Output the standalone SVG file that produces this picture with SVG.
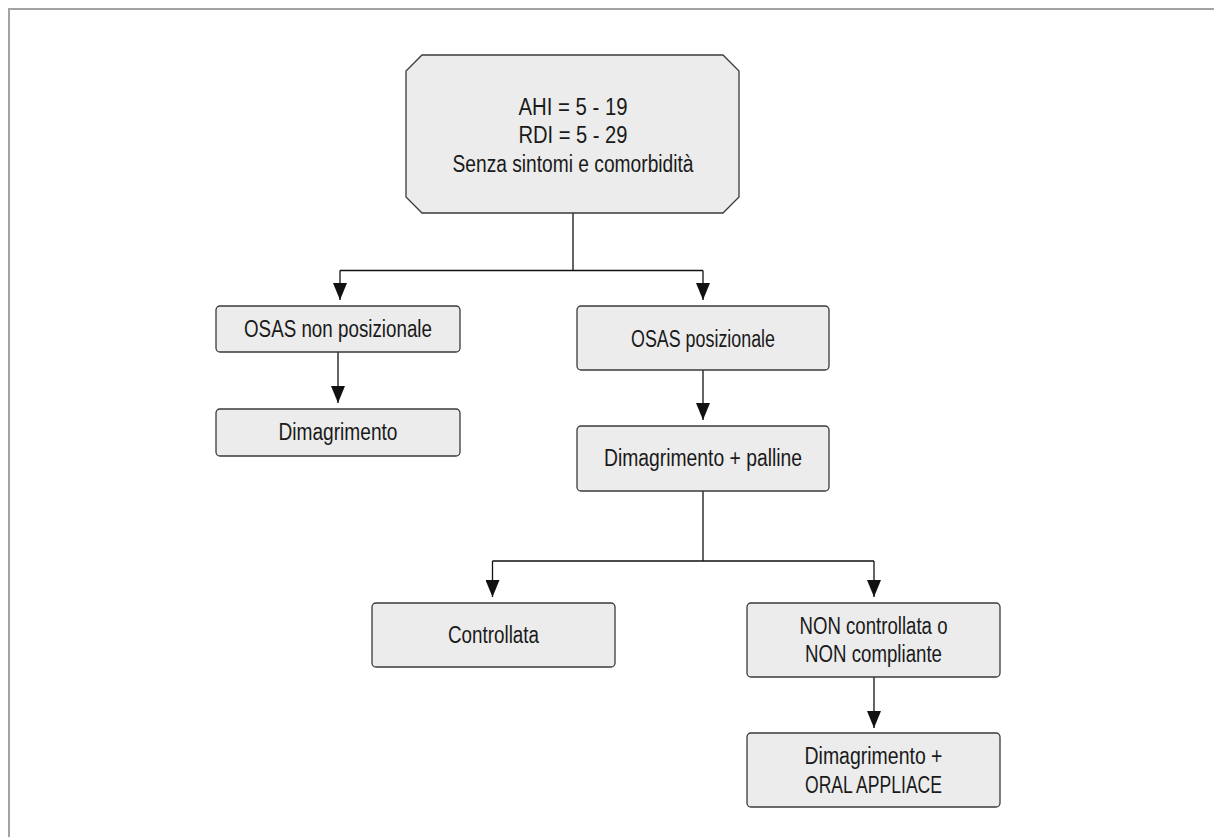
<svg xmlns="http://www.w3.org/2000/svg" width="1214" height="837" viewBox="0 0 1214 837">
  <style>
    .frame { fill: none; stroke: #a3a3a3; stroke-width: 2; }
    .box { fill: #ececec; stroke: #3a3a3a; stroke-width: 1.3; }
    .lbl { font-family: "Liberation Sans", Arial, sans-serif; font-size: 23px; fill: #1a1a1a; text-anchor: middle; }
    .wire { fill: none; stroke: #111; stroke-width: 1.3; }
  </style>
  <defs>
    <!-- arrowhead drawn along +x so orient="auto" turns it with the line -->
    <marker id="arrow" markerUnits="userSpaceOnUse" markerWidth="18" markerHeight="14" viewBox="0 0 18 14" refX="17" refY="7" orient="auto">
      <path d="M0 0 L17 7 L0 14 Z" fill="#111"/>
    </marker>
  </defs>
  <rect width="1214" height="837" fill="#ffffff"/>

  <!-- page frame -->
  <path class="frame" d="M9 837 V9 H1214"/>

  <!-- connectors -->
  <g id="connectors">
    <path class="wire" d="M573 213 V270.5"/>
    <path class="wire" d="M340 270.5 H703"/>
    <path class="wire" d="M340 270.5 V300" marker-end="url(#arrow)"/>
    <path class="wire" d="M703 270.5 V300" marker-end="url(#arrow)"/>
    <path class="wire" d="M338 352 V403" marker-end="url(#arrow)"/>
    <path class="wire" d="M703 370 V420" marker-end="url(#arrow)"/>
    <path class="wire" d="M703 491 V561"/>
    <path class="wire" d="M492.5 561 H874"/>
    <path class="wire" d="M492.5 561 V597" marker-end="url(#arrow)"/>
    <path class="wire" d="M874 561 V597" marker-end="url(#arrow)"/>
    <path class="wire" d="M874 677 V728" marker-end="url(#arrow)"/>
  </g>

  <g id="start">
    <path class="box" d="M422 55 H723 L739 71 V197 L723 213 H422 L406 197 V71 Z"/>
    <text class="lbl" x="573" y="115" textLength="109" lengthAdjust="spacingAndGlyphs">AHI = 5 - 19</text>
    <text class="lbl" x="573" y="143" textLength="109" lengthAdjust="spacingAndGlyphs">RDI = 5 - 29</text>
    <text class="lbl" x="573" y="172" textLength="241" lengthAdjust="spacingAndGlyphs">Senza sintomi e comorbidità</text>
  </g>

  <g id="non-positional">
    <rect class="box" x="216" y="306" width="244" height="46" rx="4"/>
    <text class="lbl" x="338" y="337" textLength="188" lengthAdjust="spacingAndGlyphs">OSAS non posizionale</text>
  </g>

  <g id="weight-loss">
    <rect class="box" x="216" y="409" width="244" height="47" rx="4"/>
    <text class="lbl" x="338" y="440" textLength="119" lengthAdjust="spacingAndGlyphs">Dimagrimento</text>
  </g>

  <g id="positional">
    <rect class="box" x="577" y="306" width="252" height="64" rx="4"/>
    <text class="lbl" x="703" y="347" textLength="144" lengthAdjust="spacingAndGlyphs">OSAS posizionale</text>
  </g>

  <g id="weight-loss-balls">
    <rect class="box" x="577" y="426" width="252" height="65" rx="4"/>
    <text class="lbl" x="703" y="466" textLength="198" lengthAdjust="spacingAndGlyphs">Dimagrimento + palline</text>
  </g>

  <g id="controlled">
    <rect class="box" x="372" y="603" width="243" height="64" rx="4"/>
    <text class="lbl" x="493.5" y="643" textLength="91" lengthAdjust="spacingAndGlyphs">Controllata</text>
  </g>

  <g id="not-controlled">
    <rect class="box" x="747" y="603" width="253" height="74" rx="4"/>
    <text class="lbl" x="873.5" y="634" textLength="148" lengthAdjust="spacingAndGlyphs">NON controllata o</text>
    <text class="lbl" x="873.5" y="662" textLength="137" lengthAdjust="spacingAndGlyphs">NON compliante</text>
  </g>

  <g id="oral-appliance">
    <rect class="box" x="747" y="733" width="253" height="74" rx="4"/>
    <text class="lbl" x="873.5" y="764" textLength="138" lengthAdjust="spacingAndGlyphs">Dimagrimento +</text>
    <text class="lbl" x="873.5" y="793" textLength="137" lengthAdjust="spacingAndGlyphs">ORAL APPLIACE</text>
  </g>
</svg>
